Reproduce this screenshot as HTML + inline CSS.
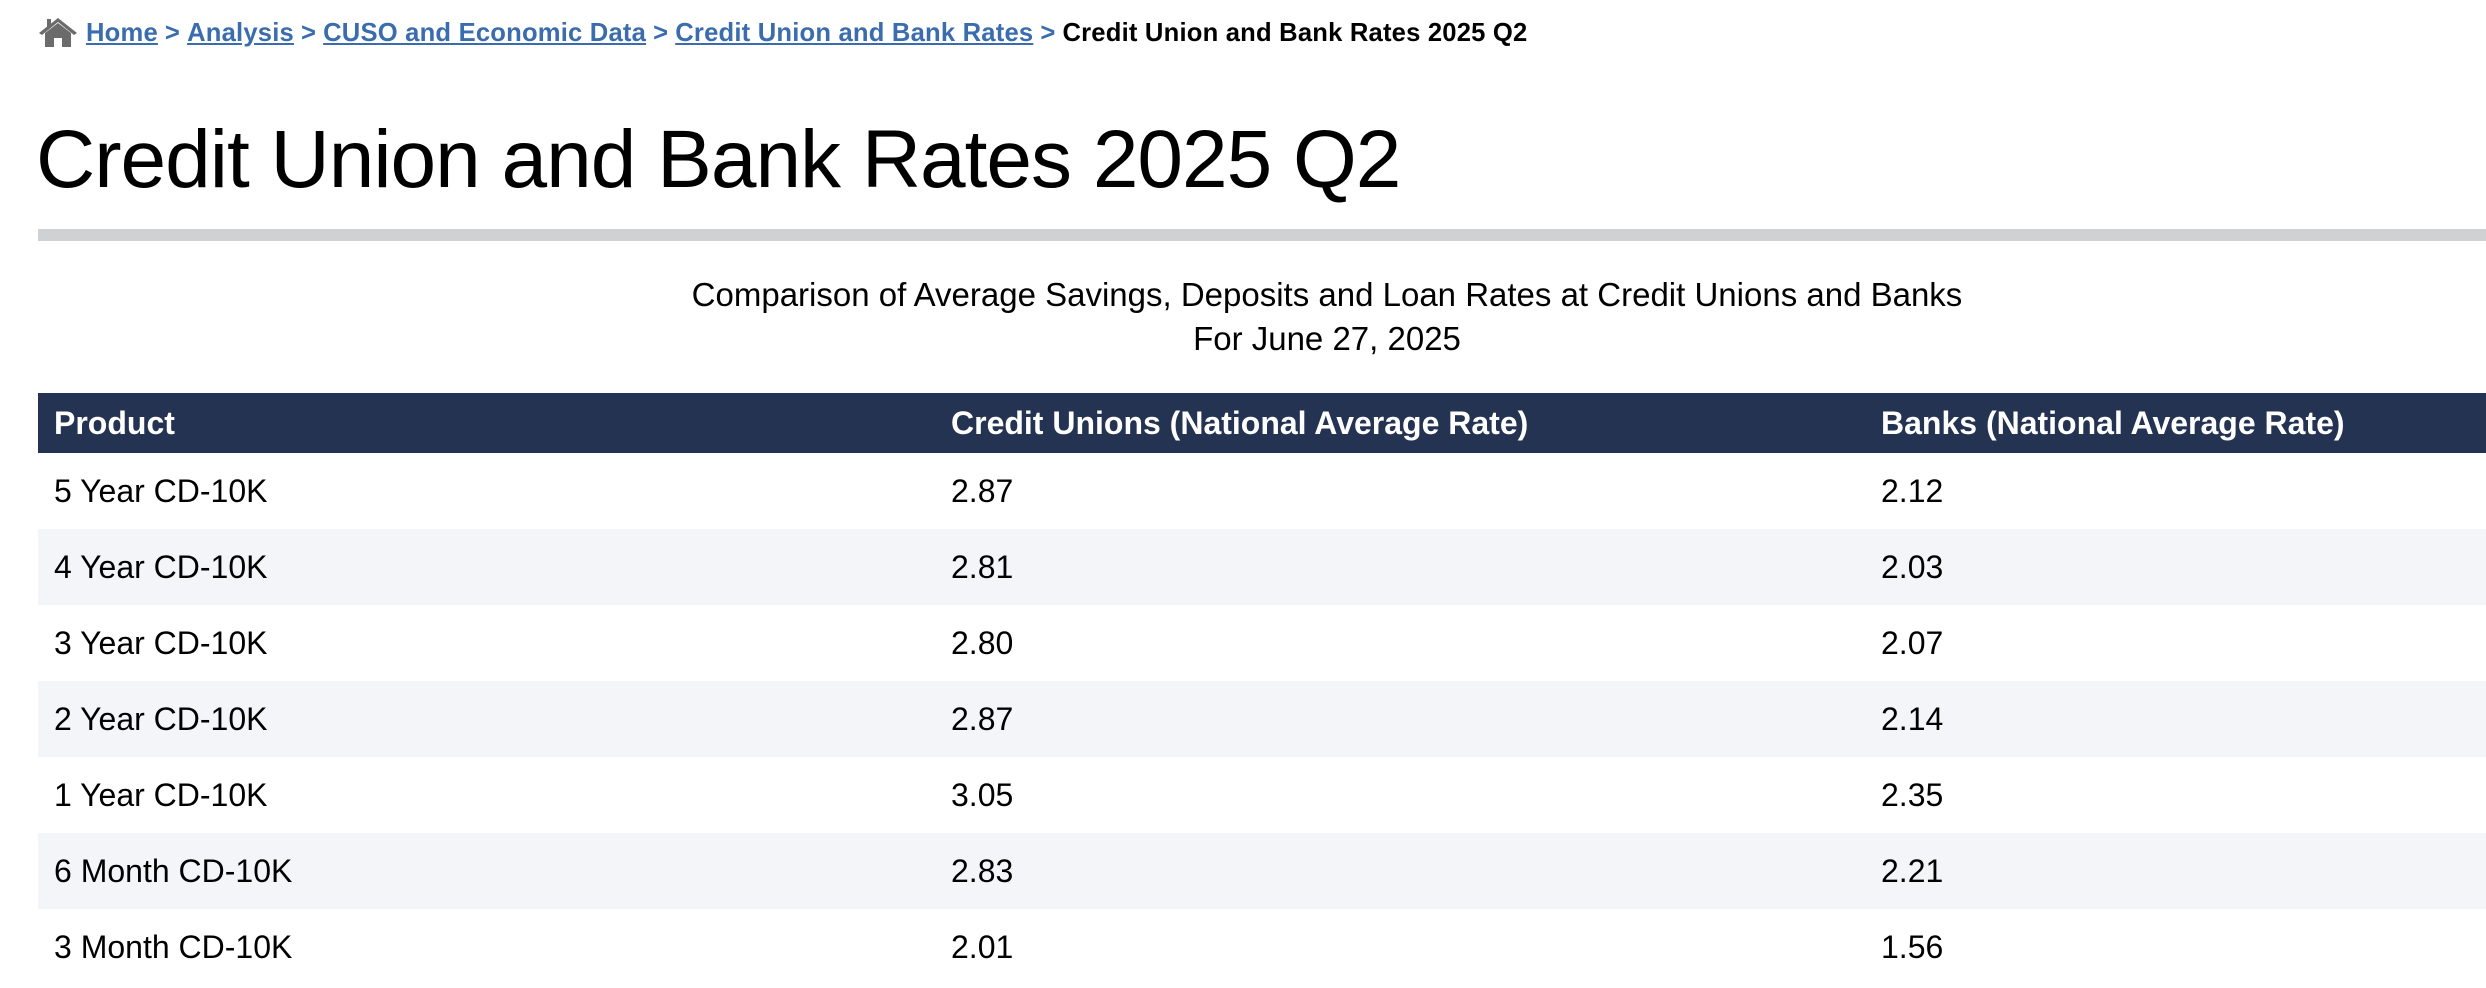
<!DOCTYPE html>
<html><head><meta charset="utf-8"><style>
*{margin:0;padding:0;box-sizing:border-box}
body{width:2486px;height:988px;overflow:hidden;background:#fff;font-family:"Liberation Sans",Arial,sans-serif;color:#000;position:relative}
.bc{position:absolute;left:86px;top:15px;font-size:25.6px;font-weight:bold;white-space:nowrap;letter-spacing:0.2px;line-height:36px}
.bc a{color:#3a6cae;text-decoration:underline}
.bc .s{color:#3a6cae;margin:0 7px}
.home{position:absolute;left:38px;top:17px;width:40px;height:31px}
h1{position:absolute;left:36px;top:112px;font-size:82px;font-weight:normal;line-height:96px;letter-spacing:-1px;white-space:nowrap}
.bar{position:absolute;left:38px;top:229px;width:2460px;height:12px;background:#d0d1d3}
.sub{position:absolute;left:38px;width:2578px;text-align:center;font-size:33px;line-height:44px}
table{position:absolute;left:38px;top:393px;width:2578px;border-collapse:collapse;font-size:32px}
th{background:#253352;color:#fff;text-align:left;height:60px;padding:0 0 0 16px;font-weight:bold}
td{height:76px;padding:0 0 0 16px}
tr:nth-child(odd) td{background:#f4f5f9}
tr:nth-child(even) td{background:#fff}
</style></head><body>
<svg class="home" viewBox="0 0 40 31"><polygon points="20,1 1,16 4,18 20,5 36,18 39,16" fill="#6b6b6b"/><rect x="9" y="2" width="4" height="8" fill="#6b6b6b"/><polygon points="7,16 20,6 33,16 33,30 24,30 24,21 16,21 16,30 7,30" fill="#6b6b6b"/></svg>
<div class="bc"><a>Home</a><span class="s">&gt;</span><a>Analysis</a><span class="s">&gt;</span><a>CUSO and Economic Data</a><span class="s">&gt;</span><a>Credit Union and Bank Rates</a><span class="s">&gt;</span><span>Credit Union and Bank Rates 2025 Q2</span></div>
<h1>Credit Union and Bank Rates 2025 Q2</h1>
<div class="bar"></div>
<div class="sub" style="top:273px">Comparison of Average Savings, Deposits and Loan Rates at Credit Unions and Banks</div>
<div class="sub" style="top:317px">For June 27, 2025</div>
<table>
<tr><th style="width:897px">Product</th><th style="width:930px">Credit Unions (National Average Rate)</th><th>Banks (National Average Rate)</th></tr>
<tr><td>5 Year CD-10K</td><td>2.87</td><td>2.12</td></tr>
<tr><td>4 Year CD-10K</td><td>2.81</td><td>2.03</td></tr>
<tr><td>3 Year CD-10K</td><td>2.80</td><td>2.07</td></tr>
<tr><td>2 Year CD-10K</td><td>2.87</td><td>2.14</td></tr>
<tr><td>1 Year CD-10K</td><td>3.05</td><td>2.35</td></tr>
<tr><td>6 Month CD-10K</td><td>2.83</td><td>2.21</td></tr>
<tr><td>3 Month CD-10K</td><td>2.01</td><td>1.56</td></tr>
</table>
</body></html>
